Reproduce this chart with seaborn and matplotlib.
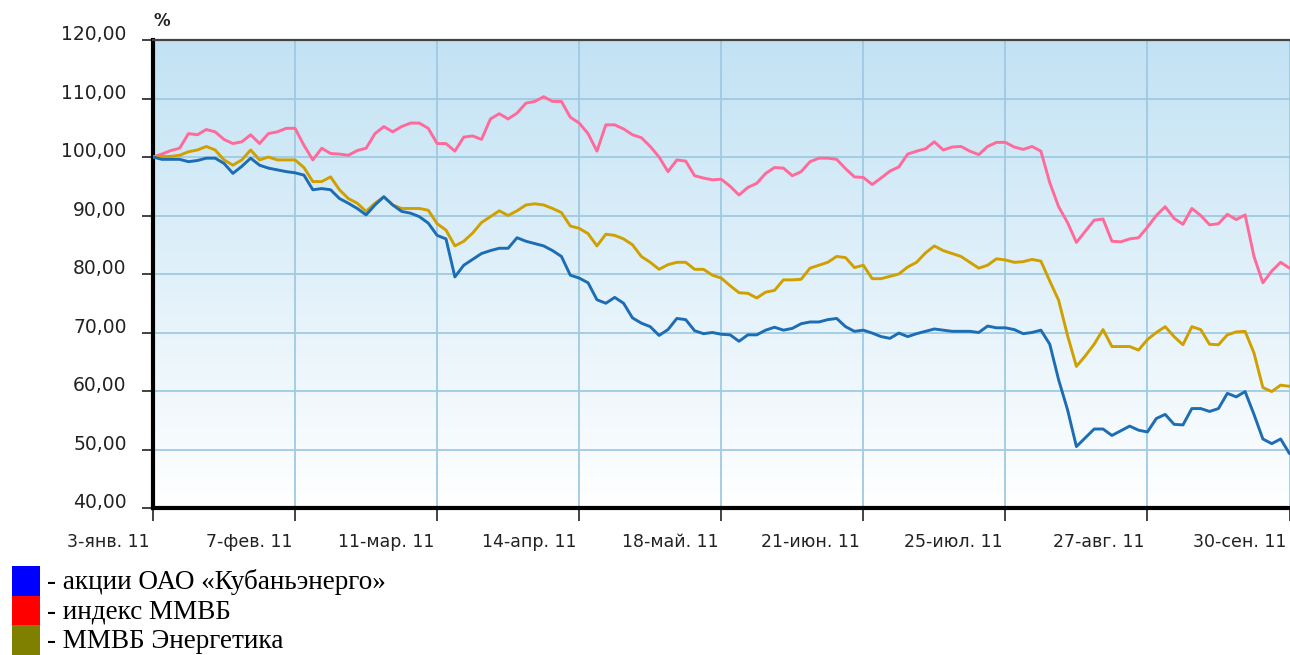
import numpy as np
import pandas as pd
import matplotlib
matplotlib.use("Agg")
import matplotlib.pyplot as plt
import matplotlib.transforms as mtransforms
import seaborn as sns
from matplotlib.patches import Rectangle
from matplotlib.colors import LinearSegmentedColormap

# ---- data (values in %, trading-day index) ----
series_names = ["индекс ММВБ", "ММВБ Энергетика", "акции ОАО «Кубаньэнерго»"]

micex = [
    100.0, 100.5, 101.1, 101.5, 104.0, 103.8, 104.7, 104.3, 103.0, 102.3, 102.6, 103.8, 102.3, 104.0, 104.3, 104.9, 104.9,
    102.0, 99.5, 101.5, 100.6, 100.5, 100.3, 101.1, 101.5, 104.0, 105.2, 104.3, 105.2, 105.8, 105.8, 104.9, 102.3,
    102.3, 101.0, 103.4, 103.6, 103.0, 106.5, 107.4, 106.5, 107.5, 109.2, 109.5, 110.3, 109.5, 109.5, 106.8, 105.8,
    104.0, 101.0, 105.5, 105.5, 104.8, 103.8, 103.3, 101.8, 100.0, 97.5, 99.5, 99.3, 96.8, 96.4, 96.1, 96.2,
    95.0, 93.5, 94.8, 95.5, 97.2, 98.2, 98.1, 96.8, 97.5, 99.2, 99.8, 99.8, 99.6, 98.0, 96.6, 96.5,
    95.3, 96.4, 97.6, 98.3, 100.5, 101.0, 101.4, 102.6, 101.2, 101.7, 101.8, 101.0, 100.4, 101.8, 102.5, 102.5,
    101.7, 101.3, 101.8, 101.0, 95.6, 91.5, 88.8, 85.4, 87.3, 89.2, 89.4, 85.6, 85.5, 86.0, 86.2, 88.0,
    90.0, 91.5, 89.5, 88.5, 91.2, 90.0, 88.4, 88.6, 90.2, 89.3, 90.1, 83.0, 78.5, 80.5, 82.0, 81.0,
]

micex_power = [
    100.0, 100.1, 100.1, 100.3, 100.9, 101.2, 101.8, 101.2, 99.5, 98.6, 99.5, 101.2, 99.5, 100.0, 99.5, 99.5, 99.5,
    98.2, 95.8, 95.8, 96.6, 94.4, 92.9, 92.1, 90.7, 92.1, 93.2, 91.8, 91.2, 91.2, 91.2, 90.9, 88.6,
    87.5, 84.8, 85.6, 87.0, 88.8, 89.8, 90.8, 90.0, 90.8, 91.8, 92.0, 91.8, 91.2, 90.5, 88.2, 87.8,
    86.9, 84.8, 86.8, 86.6, 86.0, 85.0, 83.0, 82.0, 80.8, 81.6, 82.0, 82.0, 80.8, 80.8, 79.8, 79.3,
    78.0, 76.8, 76.7, 75.9, 76.9, 77.2, 79.0, 79.0, 79.1, 81.0, 81.5, 82.0, 83.0, 82.8, 81.1, 81.5,
    79.2, 79.2, 79.6, 80.0, 81.2, 82.0, 83.6, 84.8, 84.0, 83.5, 83.0, 82.0, 81.0, 81.5, 82.6, 82.4,
    82.0, 82.1, 82.5, 82.2, 78.8, 75.5, 69.5, 64.2, 66.0, 68.0, 70.5, 67.6, 67.6, 67.6, 67.0, 68.8,
    70.0, 71.0, 69.3, 67.9, 71.0, 70.5, 68.0, 67.9, 69.6, 70.1, 70.2, 66.5, 60.6, 59.9, 61.0, 60.8,
]

kuban = [
    100.0, 99.6, 99.6, 99.6, 99.2, 99.4, 99.8, 99.8, 98.9, 97.2, 98.4, 99.8, 98.6, 98.1, 97.8, 97.5, 97.3,
    96.9, 94.4, 94.6, 94.4, 92.9, 92.1, 91.2, 90.1, 91.8, 93.2, 91.8, 90.7, 90.4, 89.8, 88.7, 86.6,
    86.0, 79.5, 81.5, 82.5, 83.5, 84.0, 84.4, 84.4, 86.2, 85.6, 85.2, 84.8, 84.0, 83.0, 79.8, 79.3,
    78.5, 75.6, 75.0, 76.0, 75.0, 72.5, 71.6, 71.0, 69.5, 70.5, 72.4, 72.2, 70.3, 69.8, 70.0, 69.7,
    69.6, 68.5, 69.6, 69.6, 70.4, 70.9, 70.4, 70.7, 71.5, 71.8, 71.8, 72.2, 72.4, 71.0, 70.2, 70.4,
    69.9, 69.3, 69.0, 69.9, 69.3, 69.8, 70.2, 70.6, 70.4, 70.2, 70.2, 70.2, 70.0, 71.1, 70.8, 70.8,
    70.5, 69.8, 70.0, 70.4, 68.0, 61.9, 56.8, 50.5, 52.0, 53.5, 53.5, 52.4, 53.2, 54.0, 53.3, 53.0,
    55.3, 56.0, 54.3, 54.2, 57.0, 57.0, 56.5, 57.0, 59.6, 59.0, 59.9, 56.0, 51.8, 51.0, 51.8, 49.3,
]

x_tick_labels = ["3-янв. 11", "7-фев. 11", "11-мар. 11", "14-апр. 11", "18-май. 11",
                 "21-июн. 11", "25-июл. 11", "27-авг. 11", "30-сен. 11"]
y_ticks = [40, 50, 60, 70, 80, 90, 100, 110, 120]

legend_labels = ["- акции ОАО «Кубаньэнерго»", "- индекс ММВБ", "- ММВБ Энергетика"]
legend_colors = ["#0000ff", "#ff0000", "#808000"]

line_colors = {
    "индекс ММВБ": "#ff6a9a",
    "ММВБ Энергетика": "#cfa000",
    "акции ОАО «Кубаньэнерго»": "#1c6db4",
}

# ---- build long table ----
n = len(micex)
days = np.arange(n)
df = pd.concat([
    pd.DataFrame({"day": days, "value": micex, "series": series_names[0]}),
    pd.DataFrame({"day": days, "value": micex_power, "series": series_names[1]}),
    pd.DataFrame({"day": days, "value": kuban, "series": series_names[2]}),
], ignore_index=True)

sns.set_style("white")
plt.rcParams["font.family"] = ["DejaVu Sans"]

W, H = 1290, 655
fig = plt.figure(figsize=(W / 100, H / 100), dpi=100)
ax = fig.add_axes([153 / W, 1 - 508 / H, (1289.5 - 153) / W, 468 / H])

# gradient background
cmap = LinearSegmentedColormap.from_list("bg", ["#ffffff", "#c2e2f4"])
ax.imshow(np.linspace(1, 0, 256).reshape(-1, 1), extent=[0, n - 1, 40, 120],
          aspect="auto", cmap=cmap, zorder=0, interpolation="bilinear")

sns.lineplot(data=df, x="day", y="value", hue="series", hue_order=series_names,
             palette=line_colors, estimator=None, sort=False, linewidth=2.1,
             legend=False, ax=ax, zorder=3)

ax.set_xlim(0, n - 1)
ax.set_ylim(40, 120)
ax.set_xlabel("")
ax.set_ylabel("")

step = (n - 1) // (len(x_tick_labels) - 1)
ax.set_xticks(np.arange(0, n, step))
ax.set_xticklabels(x_tick_labels, ha="right")
ax.set_yticks(y_ticks)
ax.set_yticklabels([f"{v:.2f}".replace(".", ",") for v in y_ticks])
plt.setp(ax.get_yticklabels(), va="bottom")

ax.set_axisbelow(True)
ax.grid(True, color="#9fcae2", linewidth=1.3, zorder=1)

for side in ["left", "bottom"]:
    ax.spines[side].set_color("black")
    ax.spines[side].set_linewidth(3)
ax.spines["top"].set_color("#444444")
ax.spines["top"].set_linewidth(1.6)
ax.spines["right"].set_visible(False)

ax.tick_params(axis="y", direction="out", length=8, width=1.2, color="#222222",
               pad=11, labelsize=13.5, labelcolor="#222222", left=True)
ax.tick_params(axis="x", direction="out", length=9, width=1.2, color="#222222",
               pad=9, labelsize=12.5, labelcolor="#222222", bottom=True)
xshift = mtransforms.ScaledTranslation(-3 / 100, 0, fig.dpi_scale_trans)
for lab in ax.get_xticklabels():
    lab.set_transform(lab.get_transform() + xshift)
yshift = mtransforms.ScaledTranslation(0, -4 / 100, fig.dpi_scale_trans)
for lab in ax.get_yticklabels():
    lab.set_transform(lab.get_transform() + yshift)

fig.text(154 / W, 1 - 21 / H, "%", fontsize=12, fontweight="bold", color="#222222",
         va="center", ha="left")

# legend block
rows = [(566, 596), (596, 625), (625, 655)]
for (y0, y1), col, lab in zip(rows, legend_colors, legend_labels):
    fig.add_artist(Rectangle((12 / W, 1 - y1 / H), 28 / W, (y1 - y0) / H,
                             transform=fig.transFigure, facecolor=col,
                             edgecolor="none"))
    fig.text(47 / W, 1 - ((y0 + y1) / 2 + 1) / H, lab, fontsize=19.5,
             family=["Liberation Serif", "DejaVu Serif"], va="center", ha="left",
             color="black")

fig.savefig("out.png", dpi=100)
